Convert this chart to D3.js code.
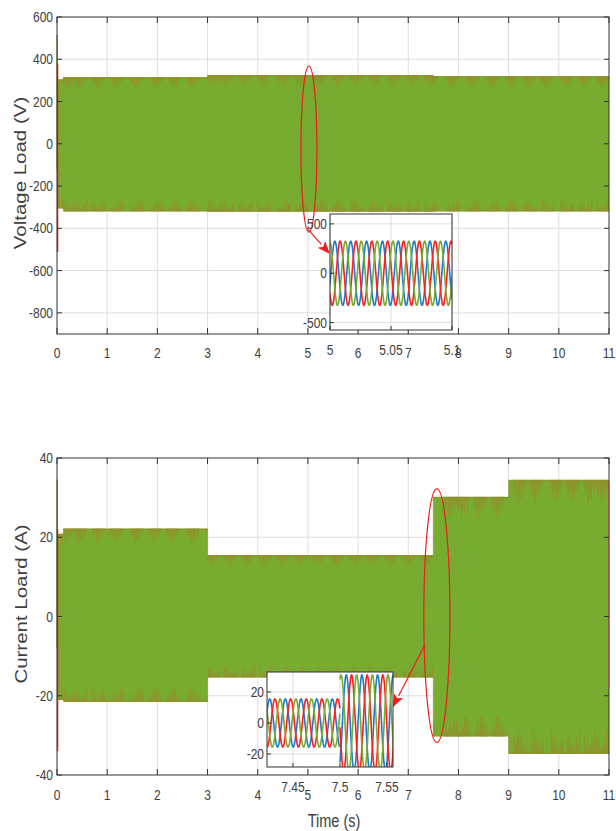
<!DOCTYPE html>
<html>
<head>
<meta charset="utf-8">
<title>Voltage / Current Load</title>
<script src="https://d3js.org/d3.v7.min.js"></script>
<style>
  * { margin:0; padding:0; }
  body { background:#fff; }
  svg text { font-family:"Liberation Sans", Arial, sans-serif; fill:#404040; }
</style>
</head>
<body>
<svg id="chart" width="616" height="831"></svg>
<script>
// ---- data ----
var xTickVals = [0,1,2,3,4,5,6,7,8,9,10,11];
var voltTicks = [600,400,200,0,-200,-400,-600,-800];
var currTicks = [40,20,0,-20,-40];

// envelope segments: [t start, t end, upper, lower]
var voltSegs = [[0,0.13,305,-306],[0.13,3,316,-320],[3,7.5,325,-322],[7.5,11,321,-320]];
var currSegs = [[0,0.13,20.9,-21.1],[0.13,3,22.2,-21.6],[3,7.5,15.5,-15.4],[7.5,9,30.2,-30.3],[9,11,34.5,-34.7]];

// centre times of the olive "tassels" on the band edges
var voltClusters = [0.22,0.46,0.82,1.19,1.59,1.99,2.35,2.71,3.11,3.39,3.75,4.11,4.51,4.87,5.24,5.6,5.97,6.34,6.71,7.08,7.45,7.89,8.29,8.69,9.06,9.42,9.76,10.16,10.52,10.88];
var currClusters = [0.2,0.46,0.82,1.19,1.59,1.95,2.31,2.71,3.1,3.45,3.8,4.15,4.5,4.86,5.22,5.58,5.95,6.3,6.66,7.02,7.38,7.83,8.09,8.43,8.78,9.22,9.56,9.96,10.28,10.62,10.88];
var tasselShape = [0.35,0.7,0.45,1.0,0.6,0.85,0.3,0.55,0.2];

// start-up transients: [t, from, to, colour]
var voltTrans = [[0.004,-120,515,"#77ac30"],[0.012,380,-512,"#ee2a1a"]];
var currTrans = [[0.004,-8,34.6,"#77ac30"],[0.012,22,-34,"#ee2a1a"],[10.995,-18,34,"#f07070"]];

// zoom insets: sinusoid pieces {t0, t1, amplitude, time of blue peak}
var vInsetTicksX = [5,5.05,5.1], vInsetTicksY = [500,0,-500];
var vWave = [{t0:5,t1:5.1,amp:325,peak:5.004}];
var vFreq = 77;
var cInsetTicksX = [7.45,7.5,7.55], cInsetTicksY = [20,0,-20];
var cWave = [{t0:7.42,t1:7.5,amp:15.5,peak:7.4252},{t0:7.5,t1:7.56,amp:31,peak:7.5067}];
var cFreq = 60;
var phaseNames = ["blue","red","green"];
var phaseLag = [0,1/3,2/3];
var phaseColor = {blue:"#1c7cc9", red:"#ff1e1e", green:"#77ac30"};

// ---- drawing ----
var svg = d3.select("#chart");
var GREEN = "#77ac30", OLIVE = "#998a2c", AXIS = "#333";
var SY = 1.28; // the picture is stretched vertically

var x = d3.scaleLinear().domain([0,11]).range([57,609]);
var yV = d3.scaleLinear().domain([-900,600]).range([334,17]);
var yC = d3.scaleLinear().domain([-40,40]).range([775,458]);

function label(g, px, py, str, anchor, size, rot){
	var t = g.append("text")
		.attr("transform", "translate(" + px + "," + py + ")" + (rot ? " rotate(" + rot + ") scale(" + SY + ",1)" : " scale(1," + SY + ")"))
		.attr("text-anchor", anchor)
		.attr("dominant-baseline", "central")
		.style("font-size", size + "px")
		.text(str);
	return t;
}

function segAt(segs, t){
	for (var i = 0; i < segs.length; i++) if (t >= segs[i][0] && t < segs[i][1]) return segs[i];
	return segs[segs.length-1];
}

function drawPanel(y, yTicks, segs, clusters, trans, xLabY){
	var g = svg.append("g");
	var x0 = x.range()[0], x1 = x.range()[1], y0 = y.range()[1], y1 = y.range()[0];

	// grid
	g.selectAll(".vg").data(xTickVals.slice(1,-1)).enter().append("line")
		.attr("x1", x).attr("x2", x).attr("y1", y0).attr("y2", y1)
		.attr("stroke", "#dedede").attr("stroke-width", 1);
	g.selectAll(".hg").data(yTicks.filter(function(d){ return y(d) > y0 + 1 && y(d) < y1 - 1; })).enter().append("line")
		.attr("x1", x0).attr("x2", x1).attr("y1", y).attr("y2", y)
		.attr("stroke", "#dedede").attr("stroke-width", 1);

	// band
	var pts = segs.map(function(s){ return s; }).concat([[11, 11, segs[segs.length-1][2], segs[segs.length-1][3]]]);
	var area = d3.area().curve(d3.curveStepAfter)
		.x(function(d){ return x(d[0]); })
		.y0(function(d){ return y(d[3]); })
		.y1(function(d){ return y(d[2]); });
	g.append("path").datum(pts).attr("d", area).attr("fill", GREEN);

	var edgeHi = d3.line().curve(d3.curveStepAfter).x(function(d){ return x(d[0]); }).y(function(d){ return y(d[2]) + 0.8; });
	var edgeLo = d3.line().curve(d3.curveStepAfter).x(function(d){ return x(d[0]); }).y(function(d){ return y(d[3]) - 0.8; });
	g.append("path").datum(pts).attr("d", edgeHi).attr("fill", "none").attr("stroke", OLIVE).attr("stroke-opacity", 0.55).attr("stroke-width", 1.2);
	g.append("path").datum(pts).attr("d", edgeLo).attr("fill", "none").attr("stroke", OLIVE).attr("stroke-opacity", 0.55).attr("stroke-width", 1.2);

	// tassels
	var hairs = [];
	clusters.forEach(function(c, ci){
		tasselShape.forEach(function(f, i){
			var t = c - 0.12 + i * 0.03;
			if (t <= 0.02 || t >= 10.99) return;
			var s = segAt(segs, t);
			var fb = tasselShape[(i + 3 + ci) % tasselShape.length];
			hairs.push([t, s[2], s[2] - f * 0.17 * s[2]]);
			hairs.push([t + 0.012, s[3], s[3] - fb * 0.17 * s[3]]);
		});
	});
	g.selectAll(".hair").data(hairs).enter().append("line")
		.attr("x1", function(d){ return x(d[0]); }).attr("x2", function(d){ return x(d[0]); })
		.attr("y1", function(d){ return y(d[1]); }).attr("y2", function(d){ return y(d[2]); })
		.attr("stroke", OLIVE).attr("stroke-opacity", 0.8).attr("stroke-width", 1.1);

	// transients
	g.selectAll(".tr").data(trans).enter().append("line")
		.attr("x1", function(d){ return x(d[0]); }).attr("x2", function(d){ return x(d[0]); })
		.attr("y1", function(d){ return y(d[1]); }).attr("y2", function(d){ return y(d[2]); })
		.attr("stroke", function(d){ return d[3]; }).attr("stroke-width", 1.4);

	// box + inward ticks
	g.append("rect").attr("x", x0).attr("y", y0).attr("width", x1 - x0).attr("height", y1 - y0)
		.attr("fill", "none").attr("stroke", AXIS).attr("stroke-width", 1);
	xTickVals.forEach(function(d){
		g.append("line").attr("x1", x(d)).attr("x2", x(d)).attr("y1", y0).attr("y2", y0 + 6).attr("stroke", AXIS);
		g.append("line").attr("x1", x(d)).attr("x2", x(d)).attr("y1", y1).attr("y2", y1 - 6).attr("stroke", AXIS);
		label(g, x(d), xLabY, d, "middle", 12);
	});
	yTicks.forEach(function(d){
		g.append("line").attr("x1", x0).attr("x2", x0 + 5).attr("y1", y(d)).attr("y2", y(d)).attr("stroke", AXIS);
		g.append("line").attr("x1", x1).attr("x2", x1 - 5).attr("y1", y(d)).attr("y2", y(d)).attr("stroke", AXIS);
		label(g, x0 - 4, y(d), d, "end", 12);
	});
	return g;
}

function drawInset(box, xd, yd, ticksX, ticksY, wave, freq, id, xLabY){
	var ix = d3.scaleLinear().domain(xd).range([box[0], box[1]]);
	var iy = d3.scaleLinear().domain(yd).range([box[3], box[2]]);
	var g = svg.append("g");
	g.append("rect").attr("x", box[0]).attr("y", box[2]).attr("width", box[1] - box[0]).attr("height", box[3] - box[2])
		.attr("fill", "#fff");
	g.append("clipPath").attr("id", id).append("rect")
		.attr("x", box[0]).attr("y", box[2]).attr("width", box[1] - box[0]).attr("height", box[3] - box[2]);
	g.selectAll(".ig").data(ticksX).enter().append("line")
		.attr("x1", ix).attr("x2", ix).attr("y1", box[2]).attr("y2", box[3]).attr("stroke", "#dedede");
	g.selectAll(".ih").data(ticksY).enter().append("line")
		.attr("x1", box[0]).attr("x2", box[1]).attr("y1", iy).attr("y2", iy).attr("stroke", "#dedede");

	var line = d3.line().x(function(d){ return ix(d[0]); }).y(function(d){ return iy(d[1]); });
	var step = 1 / (freq * 48);
	phaseNames.forEach(function(p, k){
		wave.forEach(function(w){
			var pts = d3.range(w.t0, w.t1 + step / 2, step).map(function(t){
				return [t, w.amp * Math.cos(2 * Math.PI * (freq * (t - w.peak) - phaseLag[k]))];
			});
			g.append("path").datum(pts).attr("d", line).attr("clip-path", "url(#" + id + ")")
				.attr("fill", "none").attr("stroke", phaseColor[p]).attr("stroke-width", 1.6);
		});
	});

	g.append("rect").attr("x", box[0]).attr("y", box[2]).attr("width", box[1] - box[0]).attr("height", box[3] - box[2])
		.attr("fill", "none").attr("stroke", AXIS);
	ticksX.forEach(function(d){
		g.append("line").attr("x1", ix(d)).attr("x2", ix(d)).attr("y1", box[3]).attr("y2", box[3] - 4).attr("stroke", AXIS);
		label(g, ix(d), xLabY, d, "middle", 12);
	});
	ticksY.forEach(function(d){
		g.append("line").attr("x1", box[0]).attr("x2", box[0] + 4).attr("y1", iy(d)).attr("y2", iy(d)).attr("stroke", AXIS);
		label(g, box[0] - 3, iy(d), d, "end", 12);
	});
}

function drawCallout(y, cx, cy, rx, ry, from, to){
	var g = svg.append("g");
	g.append("ellipse").attr("cx", x(cx)).attr("cy", y(cy)).attr("rx", x(cx + rx) - x(cx)).attr("ry", y(cy) - y(cy + ry))
		.attr("fill", "none").attr("stroke", "#f01c1c").attr("stroke-width", 1.2);
	var ax = x(from[0]), ay = y(from[1]), bx = x(to[0]), by = y(to[1]);
	var ang = Math.atan2(by - ay, bx - ax), L = 13, Wd = 5;
	var hx = bx - L * Math.cos(ang), hy = by - L * Math.sin(ang);
	g.append("line").attr("x1", ax).attr("y1", ay).attr("x2", hx).attr("y2", hy)
		.attr("stroke", "#f01c1c").attr("stroke-width", 1.2);
	g.append("path").attr("d", "M" + bx + "," + by +
		"L" + (hx + Wd * Math.sin(ang)) + "," + (hy - Wd * Math.cos(ang)) +
		"L" + (hx + 3 * Math.cos(ang)) + "," + (hy + 3 * Math.sin(ang)) +
		"L" + (hx - Wd * Math.sin(ang)) + "," + (hy + Wd * Math.cos(ang)) + "Z")
		.attr("fill", "#f01c1c");
}

drawPanel(yV, voltTicks, voltSegs, voltClusters, voltTrans, 353);
drawPanel(yC, currTicks, currSegs, currClusters, currTrans, 795);

drawCallout(yV, 5.02, -25, 0.16, 393, [4.98, -399], [5.44, -522]);
drawCallout(yC, 7.57, 0.2, 0.26, 32, [7.33, -7.2], [6.69, -22.9]);

drawInset([330,452,214,330], [5,5.1], [-575,600], vInsetTicksX, vInsetTicksY, vWave, vFreq, "clipV", 350);
drawInset([267,393,672,767], [7.4223,7.5564], [-28.4,32.9], cInsetTicksX, cInsetTicksY, cWave, cFreq, "clipC", 787);

// axis titles
label(svg, 20, 173, "Voltage Load (V)", "middle", 16, -90);
label(svg, 21, 604, "Current Loard (A)", "middle", 16, -90);
label(svg, 334, 821, "Time (s)", "middle", 14.5);
</script>
</body>
</html>
